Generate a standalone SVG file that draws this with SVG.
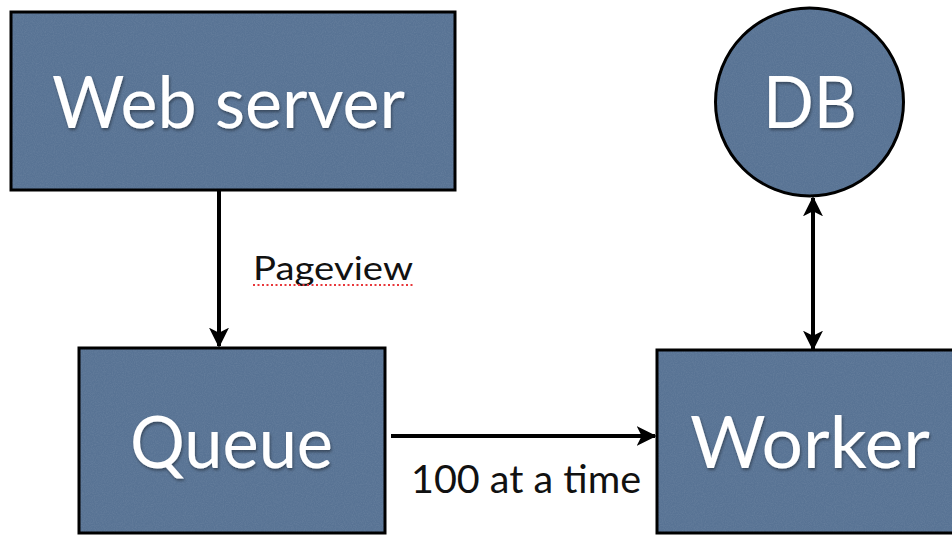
<svg xmlns="http://www.w3.org/2000/svg" width="952" height="536" viewBox="0 0 952 536">
  <defs>
    <style>
      .node { fill: #587394; stroke: #000; stroke-width: 3; }
      .grain { fill: #fff; opacity: 0.10; filter: url(#noise); }
      .title { font-family: Lato, "Open Sans", sans-serif; fill: #fff; font-size: 72px; filter: url(#shadow); }
      .label { font-family: Lato, "Open Sans", sans-serif; fill: #111; }
      .wire { stroke: #000; stroke-width: 4; fill: none; }
    </style>
    <filter id="noise" x="0" y="0" width="100%" height="100%">
      <feTurbulence type="fractalNoise" baseFrequency="0.9" numOctaves="2" seed="3"/>
      <feColorMatrix type="matrix" values="0 0 0 0 1  0 0 0 0 1  0 0 0 0 1  1.2 0 0 0 -0.4"/>
      <feComposite in2="SourceGraphic" operator="in"/>
    </filter>
    <filter id="shadow" x="-5%" y="-10%" width="110%" height="130%">
      <feDropShadow dx="1" dy="2" stdDeviation="1.5" flood-color="#000" flood-opacity="0.4"/>
    </filter>
    <marker id="head" viewBox="0 0 12 12" refX="11" refY="6" markerWidth="5" markerHeight="5" orient="auto-start-reverse" markerUnits="strokeWidth">
      <path d="M0,0 L12,6 L0,12 L3,6 Z" fill="#000"/>
    </marker>
  </defs>

  <rect width="952" height="536" fill="#fff"/>

  <g id="web-server">
    <rect class="node" x="11" y="12" width="444" height="178"/>
    <rect class="grain" x="12.5" y="13.5" width="441" height="175"/>
    <text class="title" x="52" y="128" font-size="76" textLength="353" lengthAdjust="spacingAndGlyphs">Web server</text>
  </g>

  <g id="db">
    <circle class="node" cx="809.5" cy="102" r="94"/>
    <circle class="grain" cx="809.5" cy="102" r="92.5"/>
    <text class="title" x="763" y="128" textLength="94" lengthAdjust="spacingAndGlyphs">DB</text>
  </g>

  <g id="queue">
    <rect class="node" x="79" y="348" width="306" height="185"/>
    <rect class="grain" x="80.5" y="349.5" width="303" height="182"/>
    <text class="title" x="130" y="468" textLength="203" lengthAdjust="spacingAndGlyphs">Queue</text>
  </g>

  <g id="worker">
    <rect class="node" x="657" y="350" width="310" height="183"/>
    <rect class="grain" x="658.5" y="351.5" width="295" height="180"/>
    <text class="title" x="690" y="468" textLength="240" lengthAdjust="spacingAndGlyphs">Worker</text>
  </g>

  <g id="connectors">
    <line class="wire" x1="219" y1="191" x2="219" y2="346" marker-end="url(#head)"/>
    <line class="wire" x1="391" y1="436" x2="655" y2="436" marker-end="url(#head)"/>
    <line class="wire" x1="813" y1="198" x2="813" y2="349" marker-start="url(#head)" marker-end="url(#head)"/>
    <text class="label" x="253" y="280" font-size="33" textLength="160" lengthAdjust="spacingAndGlyphs">Pageview</text>
    <line x1="253" y1="285" x2="413" y2="285" stroke="#e8373a" stroke-width="2" stroke-dasharray="2 2.5"/>
    <text class="label" x="411" y="493" font-size="39" textLength="230" lengthAdjust="spacingAndGlyphs">100 at a time</text>
  </g>
</svg>
